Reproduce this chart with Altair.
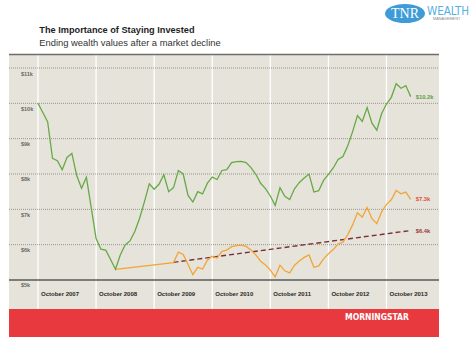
import altair as alt
import pandas as pd

# ---------------- data ----------------
green_values = [
    10000, 9740, 9474, 8442, 8377, 8124, 8470, 8582, 7955, 7597,
    7907, 7050, 6173, 5872, 5844, 5580, 5302, 5708, 5992, 6105,
    6370, 6747, 7219, 7720, 7570, 7710, 7980, 7500, 7615, 8100,
    8000, 7395, 7205, 7500, 7435, 7740, 7910, 7845, 8100, 8125,
    8325, 8350, 8359, 8321, 8180, 7991, 7737, 7586, 7378, 7110,
    7610, 7370, 7280, 7580, 7760, 7885, 7998, 7490, 7528, 7820,
    7990, 8170, 8410, 8496, 8800, 9200, 9655, 9485, 9880, 9437,
    9240, 9710, 9980, 10170, 10555, 10427, 10502, 10190,
]
green_months = list(range(len(green_values)))

orange_months = [16, 28] + list(range(29, 78))
orange_values = [
    5302, 5491,
    5790, 5725, 5440, 5150, 5360, 5310, 5560, 5670, 5620, 5810,
    5846, 5945, 5975, 5985, 5950, 5846, 5710, 5530, 5423, 5280,
    5090, 5420, 5260, 5200, 5420, 5540, 5640, 5710, 5360, 5400,
    5600, 5740, 5860, 6020, 6070, 6280, 6560, 6900, 6780, 7050,
    6736, 6594, 6930, 7140, 7270, 7537, 7440, 7490, 7283,
]

trend_months = [28, 77]
trend_values = [5500, 6400]

y_tick_values = [5000, 6000, 7000, 8000, 9000, 10000, 11000]
y_tick_labels = ["$5k", "$6k", "$7k", "$8k", "$9k", "$10k", "$11k"]

year_ticks = [0, 12, 24, 36, 48, 60, 72]
year_labels = ["October 2007", "October 2008", "October 2009", "October 2010",
               "October 2011", "October 2012", "October 2013"]

end_series = ["stay", "reinvest", "cash"]
end_months = [77, 77, 77]
end_values = [10190, 7283, 6400]
end_labels = ["$10.2k", "$7.3k", "$6.4k"]

title_text = "The Importance of Staying Invested"
subtitle_text = "Ending wealth values after a market decline"

# ---------------- scales ----------------
W, H = 430, 254
xscale = alt.Scale(domain=[-5.99, 82.85], nice=False, zero=False)
yscale = alt.Scale(domain=[4179, 11368], nice=False, zero=False)
FONT = "Liberation Sans"
NARROW = "Liberation Sans Narrow, DejaVu Sans Condensed, sans-serif"

one = pd.DataFrame({"k": [0]})

red_bar = alt.Chart(one).mark_rect(color="#e8393f").encode(
    x=alt.value(0), x2=alt.value(W), y=alt.value(254), y2=alt.value(282)
)

vlines = alt.Chart(pd.DataFrame({"m": year_ticks})).mark_rule(
    color="#ffffff", strokeWidth=1.3
).encode(
    x=alt.X("m:Q", scale=xscale, axis=None), y=alt.value(0), y2=alt.value(254)
)

grid = alt.Chart(pd.DataFrame({"v": y_tick_values[1:]})).mark_rule(
    color="#8c8c86", strokeWidth=0.9, strokeDash=[1, 1]
).encode(
    y=alt.Y("v:Q", scale=yscale, axis=None), x=alt.value(0), x2=alt.value(W)
)

baseline = alt.Chart(pd.DataFrame({"v": y_tick_values[:1]})).mark_rule(
    color="#5a5a58", strokeWidth=1.6
).encode(
    y=alt.Y("v:Q", scale=yscale, axis=None), x=alt.value(0), x2=alt.value(W)
)

top_line = alt.Chart(one).mark_rule(color="#6e6e6c", strokeWidth=1.5).encode(
    x=alt.value(0), x2=alt.value(W), y=alt.value(-0.5)
)

ylabels = alt.Chart(pd.DataFrame({"v": y_tick_values, "t": y_tick_labels})).mark_text(
    align="left", baseline="middle", dy=5.5, font=FONT, fontSize=5.5,
    fontWeight="bold", color="#6a6a66"
).encode(
    y=alt.Y("v:Q", scale=yscale, axis=None), x=alt.value(12), text="t:N"
)

xlabels = alt.Chart(pd.DataFrame({"m": year_ticks, "t": year_labels})).mark_text(
    align="left", baseline="middle", dx=3, font=FONT, fontSize=6,
    fontWeight="bold", color="#2a2a2a"
).encode(
    x=alt.X("m:Q", scale=xscale, axis=None), y=alt.value(238.5), text="t:N"
)

green = alt.Chart(pd.DataFrame({"m": green_months, "v": green_values})).mark_line(
    color="#66aa46", strokeWidth=1.3
).encode(
    x=alt.X("m:Q", scale=xscale, axis=None), y=alt.Y("v:Q", scale=yscale, axis=None)
)

orange = alt.Chart(pd.DataFrame({"m": orange_months, "v": orange_values})).mark_line(
    color="#f2a537", strokeWidth=1.3
).encode(
    x=alt.X("m:Q", scale=xscale, axis=None), y=alt.Y("v:Q", scale=yscale, axis=None)
)

trend = alt.Chart(pd.DataFrame({"m": trend_months, "v": trend_values})).mark_line(
    color="#7d2f38", strokeWidth=1.4, strokeDash=[5, 3]
).encode(
    x=alt.X("m:Q", scale=xscale, axis=None), y=alt.Y("v:Q", scale=yscale, axis=None)
)

end_text = alt.Chart(pd.DataFrame({
    "s": end_series, "m": end_months, "v": end_values, "t": end_labels
})).mark_text(
    align="left", baseline="middle", dx=5, font=FONT, fontSize=5.8, fontWeight="bold"
).encode(
    x=alt.X("m:Q", scale=xscale, axis=None),
    y=alt.Y("v:Q", scale=yscale, axis=None),
    text="t:N",
    color=alt.Color("s:N", scale=alt.Scale(domain=end_series,
                                           range=["#5ca040", "#e0503a", "#9a3a32"]),
                    legend=None),
)

title = alt.Chart(pd.DataFrame({"t": [title_text]})).mark_text(
    align="left", baseline="middle", font=FONT, fontSize=9.2,
    fontWeight="bold", color="#1e1e1e"
).encode(x=alt.value(30.3), y=alt.value(-25.5), text="t:N")

subtitle = alt.Chart(pd.DataFrame({"t": [subtitle_text]})).mark_text(
    align="left", baseline="middle", font=FONT, fontSize=9.4, color="#333333"
).encode(x=alt.value(30.3), y=alt.value(-12.5), text="t:N")

logo_shape = "M -1 0 A 1 0.48 0 1 1 1 0 A 1 0.48 0 1 1 -1 0 Z"
logo_ellipse = alt.Chart(one).mark_point(
    shape=logo_shape, filled=True, size=1600, color="#3d9bd8", opacity=1
).encode(x=alt.value(396), y=alt.value(-41.5))

logo_tnr = alt.Chart(pd.DataFrame({"t": ["TNR"]})).mark_text(
    align="center", baseline="middle", font="Liberation Serif", fontSize=14,
    color="#ffffff"
).encode(x=alt.value(396), y=alt.value(-41), text="t:N")

logo_wealth = alt.Chart(pd.DataFrame({"t": ["WEALTH"]})).mark_text(
    align="left", baseline="alphabetic", font=NARROW, fontSize=11.5, color="#55b0e2"
).encode(x=alt.value(418), y=alt.value(-40.5), text="t:N")

logo_mgmt = alt.Chart(pd.DataFrame({"t": ["MANAGEMENT"]})).mark_text(
    align="left", baseline="middle", font=FONT, fontSize=3.8, color="#8a8a8a"
).encode(x=alt.value(424), y=alt.value(-36.2), text="t:N")

brand = alt.Chart(pd.DataFrame({"t": ["MORNINGSTAR"]})).mark_text(
    align="center", baseline="middle", font=NARROW, fontSize=8.5,
    fontWeight="bold", color="#ffffff"
).encode(x=alt.value(368), y=alt.value(261.5), text="t:N")

chart = alt.layer(
    red_bar, vlines, grid, baseline, top_line, ylabels, xlabels,
    trend, orange, green, end_text, title, subtitle,
    logo_ellipse, logo_tnr, logo_wealth, logo_mgmt, brand,
).properties(
    width=W, height=H,
    padding={"left": 9, "top": 55, "right": 35, "bottom": 31},
    autosize=alt.AutoSizeParams(type="none"),
    background="#ffffff",
).configure_view(fill="#e6e3da", stroke=None)

chart.save("out.html", embed_options={"renderer": "svg", "actions": False})
